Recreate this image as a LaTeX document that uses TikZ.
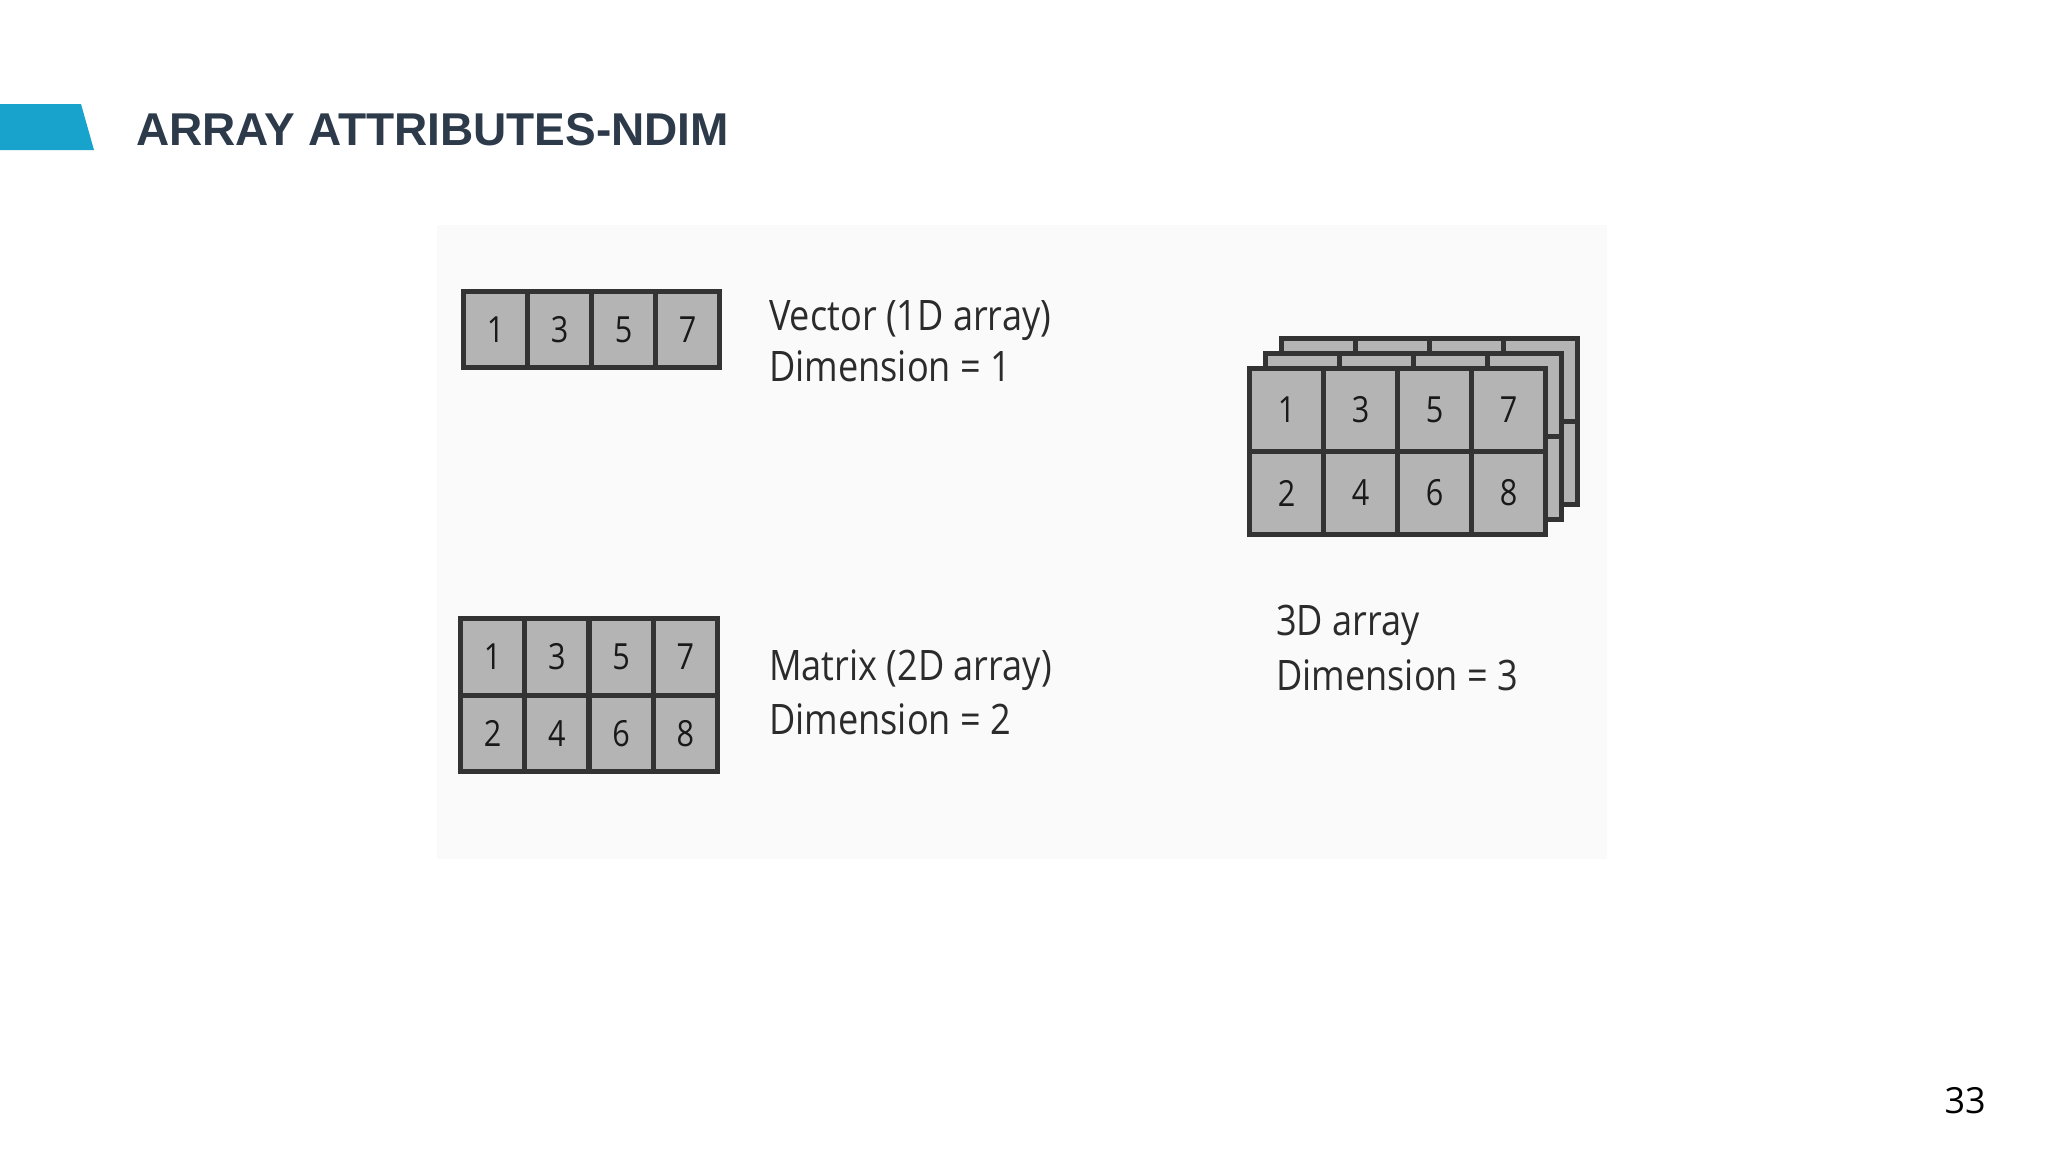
\documentclass[tikz,border=0pt]{standalone}
\usepackage{fontspec}
\setmainfont{Open Sans}
\newfontfamily\titlefont{Liberation Sans}
\definecolor{barblue}{HTML}{18A3CC}
\definecolor{titlecol}{HTML}{2D3A4A}
\definecolor{panelcol}{HTML}{FAFAFA}
\definecolor{cellfill}{HTML}{B4B4B4}
\definecolor{cellline}{HTML}{333333}
\definecolor{labelcol}{HTML}{2B2B2B}
\newcommand{\dig}[1]{\scalebox{0.85}[1]{#1}}
\newcommand{\lab}[1]{\scalebox{0.86}[1]{#1}}
\begin{document}
\begin{tikzpicture}[x=1pt,y=-1pt,
  cellbase/.style={draw=cellline, fill=cellfill, line width=5pt, inner sep=0pt,
    font=\fontsize{36}{36}\selectfont, text=black!90},
  vcell/.style={cellbase, minimum width=64pt, minimum height=76.5pt},
  ccell/.style={cellbase, minimum width=74pt, minimum height=83pt},
  labeltext/.style={anchor=base west, inner sep=0pt, font=\fontsize{42}{42}\selectfont, text=labelcol}]
\path[use as bounding box, fill=white] (0,0) rectangle (2048,1152);
% header
\fill[barblue] (0,104) -- (81,104) -- (94,150) -- (0,150) -- cycle;
\node[anchor=base west, inner sep=0pt, font=\titlefont\bfseries\fontsize{46}{46}\selectfont, text=titlecol] (title) at (136,145) {ARRAY ATTRIBUTES-NDIM};
% panel
\fill[panelcol] (437,225) rectangle (1607,859);
% vector
\foreach \v [count=\i] in {1,3,5,7}
  \node[vcell] (v\i) at ({463.5+64*(\i-0.5)},329.5) {\dig{\v}};
\node[labeltext] (vlab1) at (769,330) {\lab{Vector (1D array)}};
\node[labeltext] (vlab2) at (769,381) {\lab{Dimension = 1}};
% matrix
\foreach \a/\b [count=\i] in {1/2,3/4,5/6,7/8}{
  \node[vcell] (mt\i) at ({460.5+64.25*(\i-0.5)},656.75) {\dig{\a}};
  \node[vcell] (mb\i) at ({460.5+64.25*(\i-0.5)},733.25) {\dig{\b}};
}
\node[labeltext] (mlab1) at (769,680) {\lab{Matrix (2D array)}};
\node[labeltext] (mlab2) at (769,734) {\lab{Dimension = 2}};
% 3D array: back layers
\foreach \dx/\dy/\l in {32/-30/c, 16/-15/b}{
  \foreach \i in {1,...,4}{
    \node[ccell] (\l t\i) at ({1249.5+74*(\i-0.5)+\dx},{410+\dy}) {};
    \node[ccell] (\l b\i) at ({1249.5+74*(\i-0.5)+\dx},{493+\dy}) {};
  }
}
% front layer
\foreach \a/\b [count=\i] in {1/2,3/4,5/6,7/8}{
  \node[ccell] (at\i) at ({1249.5+74*(\i-0.5)},410) {\dig{\a}};
  \node[ccell] (ab\i) at ({1249.5+74*(\i-0.5)},493) {\dig{\b}};
}
\node[labeltext] (clab1) at (1276,635) {\lab{3D array}};
\node[labeltext] (clab2) at (1276,690) {\lab{Dimension = 3}};
% page number
\node[anchor=base east, inner sep=0pt, font=\fontsize{36}{36}\selectfont, text=black] (pnum) at (1986,1113) {33};
\end{tikzpicture}
\end{document}
